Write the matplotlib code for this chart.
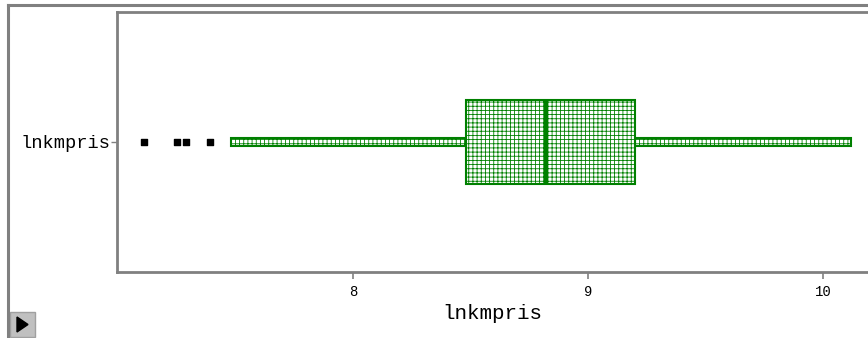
import matplotlib.pyplot as plt
from matplotlib.patches import Rectangle, Polygon
from matplotlib.lines import Line2D

variable = "lnkmpris"
# box plot summary of lnkmpris
whisker_lo = 7.48
q1 = 8.48
median = 8.82
q3 = 9.20
whisker_hi = 10.12
outliers = [7.11, 7.25, 7.29, 7.39]
x_ticks = [8, 9, 10]

green = "#008000"
gray = "#808080"
mono = "Liberation Mono"

plt.rcParams["hatch.color"] = green
plt.rcParams["hatch.linewidth"] = 0.6

W, H = 868, 338
fig = plt.figure(figsize=(W / 100, H / 100), dpi=100)

# outer window frame
fig.add_artist(Line2D([8 / W, 8 / W], [0, 1 - 5 / H], color=gray, lw=2.2))
fig.add_artist(Line2D([8 / W, 1], [1 - 5 / H, 1 - 5 / H], color=gray, lw=2.2))

ax = fig.add_axes([117 / W, (H - 272) / H, 1 - 117 / W, (272 - 12) / H])
ax.set_xlim(6.996, 10.191)
ax.set_ylim(-1, 1)

y = 0
box_h = 0.65
wh_h = 0.065

# whiskers as thin hatched bars
ax.barh(y, q1 - whisker_lo, left=whisker_lo, height=wh_h, color="white",
        edgecolor=green, hatch="++++", lw=1.5, zorder=2)
ax.barh(y, whisker_hi - q3, left=q3, height=wh_h, color="white",
        edgecolor=green, hatch="++++", lw=1.5, zorder=2)

# box
ax.barh(y, q3 - q1, left=q1, height=box_h, color="white", edgecolor=green,
        hatch="++++", lw=1.5, zorder=3)
ax.plot([median, median], [y - box_h / 2, y + box_h / 2], color=green,
        lw=3, solid_capstyle="butt", zorder=4)

ax.scatter(outliers, [y] * len(outliers), marker="s", s=14, color="black",
           zorder=3)

ax.set_xticks(x_ticks)
ax.set_xticklabels([str(t) for t in x_ticks], family=mono, fontsize=10)
ax.set_yticks([y])
ax.set_yticklabels([variable], family=mono, fontsize=13.5)
ax.tick_params(axis="x", direction="out", length=5, width=1.2, color=gray,
               pad=4)
ax.tick_params(axis="y", direction="out", length=4, width=1, color=gray,
               pad=1)
ax.set_xlabel(variable, family=mono, fontsize=15, labelpad=4)

for side in ["left", "bottom", "top"]:
    ax.spines[side].set_color(gray)
    ax.spines[side].set_linewidth(2)
ax.spines["right"].set_visible(False)

# small play button in the corner
fig.add_artist(Rectangle((10 / W, 1 / H), 25 / W, 25 / H, facecolor="#c0c0c0",
                         edgecolor="#a0a0a0", lw=1))
fig.add_artist(Polygon([[17 / W, 6 / H], [17 / W, 21 / H], [28 / W, 13.5 / H]],
                       closed=True, facecolor="black", edgecolor="black"))

fig.savefig("out.png", dpi=100)
